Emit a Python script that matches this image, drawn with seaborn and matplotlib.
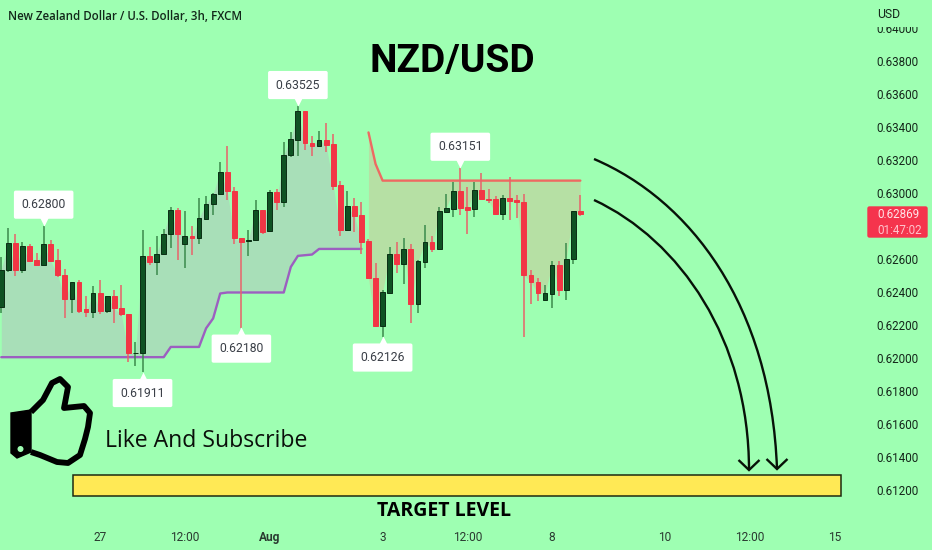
import numpy as np
import pandas as pd
import matplotlib
matplotlib.use("Agg")
import matplotlib.pyplot as plt
import matplotlib.transforms as mtransforms
from matplotlib.patches import Rectangle, FancyBboxPatch, PathPatch, Circle
from matplotlib.path import Path
import seaborn as sns

# candles, in 1e-5 price units
opens = [62308,62529,62694,62529,62674,62589,62559,62686,62589,62503,62354,62456,62291,62273,62388,62283,62372,62301,62263,62026,
         62026,62614,62577,62630,62746,62895,62690,62738,62722,62839,62928,62988,63125,63012,62726,62704,62710,62895,62766,63006,
         62942,63226,63320,63495,63300,63284,63318,63294,63048,62771,62917,62863,62708,62483,62191,62392,62626,62567,62658,62324,
         62579,62700,62658,62883,62903,63012,62911,62897,63016,62962,62958,62871,62968,62952,62942,62499,62456,62348,62386,62563,
         62408,62597,62885]
highs = [62609,62787,62750,62700,62690,62636,62800,62710,62660,62539,62456,62469,62372,62436,62469,62372,62408,62438,62263,62096,
         62775,62670,62738,62781,62915,62907,62887,62795,62968,62976,62996,63187,63282,63032,62726,62775,62956,62895,63018,63022,
         63306,63366,63525,63495,63340,63374,63423,63354,63068,63012,62968,62942,62720,62575,62408,62670,62700,62726,62686,62589,
         62805,62738,62915,62988,63062,63151,63032,63062,63119,63022,62976,62982,63093,62986,62992,62529,62483,62442,62585,62585,
         62694,62885,62986]
lows = [62271,62519,62493,62513,62579,62559,62559,62579,62485,62241,62271,62267,62247,62237,62263,62271,62207,62251,61975,61949,
        61911,62559,62503,62630,62664,62589,62543,62620,62686,62839,62861,62988,62952,62690,62180,62614,62706,62746,62766,62891,
        62915,63217,63219,63258,63219,63284,63244,63016,62734,62766,62760,62626,62479,62187,62126,62392,62515,62448,62207,62267,
        62543,62642,62658,62883,62851,62863,62750,62851,62956,62936,62865,62835,62835,62847,62122,62324,62342,62344,62301,62374,
        62348,62569,62855]
closes = [62533,62694,62529,62674,62583,62559,62686,62583,62497,62354,62456,62283,62273,62388,62283,62372,62297,62261,62026,62028,
          62614,62577,62630,62750,62895,62746,62738,62722,62843,62932,62992,63125,63008,62722,62700,62712,62895,62762,63006,62942,
          63230,63324,63491,63298,63284,63318,63290,63042,62771,62917,62859,62700,62479,62191,62396,62626,62567,62656,62324,62583,
          62700,62658,62887,62907,63012,62909,62895,63016,62960,62952,62869,62968,62948,62942,62499,62456,62392,62388,62563,62408,
          62599,62885,62869]

# lower trail line (candles 0..51) and upper trail line (candles 52..82)
lower_line = [62002]*24 + [62064]*5 + [62177,62237,62388] + [62394]*9 + [62549,62616,62620,62624] + [62658]*7
upper_line = [63364,63173] + [63072]*29

# callouts
callout_idx = [6, 42, 65, 34, 54, 20]
callout_val = [62800, 63525, 63151, 62180, 62126, 61911]
callout_dir = [1, 1, 1, -1, -1, -1]

# 0.628 is hidden behind the last-price tag in the reference, so it is not labelled
price_ticks = [0.612,0.614,0.616,0.618,0.620,0.622,0.624,0.626,0.630,0.632,0.634,0.636,0.638,0.640]
time_idx = [14, 26, 38, 54, 66, 78, 94, 106, 118]
time_labels = ["27", "12:00", "Aug", "3", "12:00", "8", "10", "12:00", "15"]

BG = "#9EFFB2"
UP, UP_WICK, UP_EDGE = "#0F5223", "#3B8A4C", "#0A2E14"
DN, DN_WICK = "#F23645", "#E8626A"

sns.set_theme(style="white")
plt.rcParams["font.family"] = ["Roboto", "DejaVu Sans"]

df = pd.DataFrame({"i": np.arange(len(opens)), "o": opens, "h": highs, "l": lows, "c": closes})
df[["o", "h", "l", "c"]] /= 1e5
df["up"] = df.c >= df.o

fig = plt.figure(figsize=(9.32, 5.5), dpi=100, facecolor=BG)
ax = fig.add_axes([0, 0, 1, 1], facecolor=BG)
px = mtransforms.Affine2D().scale(1, -1).translate(0, 550)

# shaded bands
low = pd.DataFrame({"i": np.arange(len(lower_line)), "v": np.array(lower_line) / 1e5})
upp = pd.DataFrame({"i": np.arange(len(upper_line)) + len(lower_line), "v": np.array(upper_line) / 1e5})
ax.fill_between(low.i, low.v, df.c.values[:len(low)], color="#A8DFB8", lw=0, zorder=1)
ax.fill_between(upp.i, upp.v, df.c.values[len(low):], color="#B6E0A4", lw=0, zorder=1)
sns.lineplot(data=low, x="i", y="v", color="#9C5FC0", lw=1.7, ax=ax, zorder=2, legend=False)
sns.lineplot(data=upp, x="i", y="v", color="#EE6A62", lw=1.7, ax=ax, zorder=2, legend=False)

# candles
for up, wick, body, edge in [(True, UP_WICK, UP, UP_EDGE), (False, DN_WICK, DN, DN)]:
    d = df[df.up == up]
    ax.vlines(d.i, d.l, d.h, color=wick, lw=1.1, zorder=3)
    ax.bar(d.i, (d.c - d.o).abs().clip(lower=0.00004), bottom=d[["o", "c"]].min(axis=1),
           width=0.68, color=body, edgecolor=edge, lw=0.7, zorder=4)

# callouts
for i, v, s in zip(callout_idx, callout_val, callout_dir):
    ax.annotate(f"{v/1e5:.5f}", xy=(i, v / 1e5), xytext=(0, s * 15), textcoords="offset points",
                ha="center", va="center", fontsize=8.8, color="#3A3F47", zorder=6,
                bbox=dict(boxstyle="round,pad=0.62,rounding_size=0.15", fc="white", ec="none"))
    tip = mtransforms.offset_copy(ax.transData, fig=fig, y=s * 4.5, units="dots")
    ax.plot([i], [v / 1e5], marker="v" if s > 0 else "^", ms=7.5, mfc="white", mec="none",
            transform=tip, zorder=6, clip_on=False)

# axes
ax.set_xlim(-0.184, 131.8)
ax.set_ylim(0.630 - 357.5 / 16500, 0.630 + 192.5 / 16500)
ax.set_xlabel("")
ax.set_ylabel("")
for s in ax.spines.values():
    s.set_visible(False)
ax.yaxis.tick_right()
ax.set_yticks(price_ticks)
ax.set_yticklabels([f"{t:.5f}" for t in price_ticks])
ax.tick_params(axis="y", length=0, pad=-40, labelsize=8.4, labelcolor="#14261A")
for lab in ax.get_yticklabels():
    lab.set_horizontalalignment("left")
ax.set_xticks(time_idx)
ax.set_xticklabels(time_labels)
ax.tick_params(axis="x", length=0, pad=-14, labelsize=8.6, labelcolor="#2A3A30")
ax.get_xticklabels()[2].set_fontweight("bold")

# cover clipping the top price label, and currency caption
ax.add_patch(Rectangle((868, 0), 64, 26.5, transform=px, fc=BG, ec="none", zorder=7))
ax.text(877, 14, "USD", transform=px, fontsize=8.8, color="#14261A", va="center", ha="left", zorder=8)

# last price tag
ax.add_patch(FancyBboxPatch((868, 207), 59, 30, boxstyle="round,pad=0,rounding_size=1.5", transform=px,
                            fc="#F5344D", ec="#F5344D", lw=1, zorder=7))
ax.text(877, 215, "0.62869", transform=px, fontsize=8.4, color="#FFE4E8", va="center", ha="left", zorder=8)
ax.text(877, 230, "01:47:02", transform=px, fontsize=8.4, color="#FFC4CC", va="center", ha="left", zorder=8)

# header and title
ax.text(8, 17, "New Zealand Dollar / U.S. Dollar, 3h, FXCM", transform=px, fontsize=8.3, fontweight="semibold",
        family="Open Sans", color="#12281A", va="center", ha="left")
ax.text(452, 62, "NZD/USD", transform=px, fontsize=28, fontweight="bold", color="black", va="center", ha="center")

# target band
ax.add_patch(Rectangle((73, 475), 768, 21, transform=px, fc="#FFE955", ec="#1E2A10", lw=1.1, zorder=3))
ax.text(444, 511, "TARGET LEVEL", transform=px, fontsize=14, fontweight="bold", family="Open Sans",
        color="black", va="center", ha="center")

# curved arrows
for p0, c1, c2, p1 in [((594, 159), (690, 200), (771, 305), (777, 469)),
                       ((594, 200), (680, 240), (749, 340), (749, 470))]:
    ax.add_patch(PathPatch(Path([p0, c1, c2, p1], [Path.MOVETO, Path.CURVE4, Path.CURVE4, Path.CURVE4]),
                 transform=px, fc="none", ec="#071208", lw=1.7, zorder=5))
    ax.add_patch(PathPatch(Path([(p1[0] - 10.5, p1[1] - 10), p1, (p1[0] + 10.5, p1[1] - 10)]),
                 transform=px, fc="none", ec="#071208", lw=1.7, zorder=5))

# thumb
hand = [(31, 412), (43, 400), (52, 383), (60, 379), (68, 387), (65, 403), (64, 408), (84, 406), (90, 413),
        (88, 427), (85, 439), (80, 455), (68, 463), (57, 462), (40, 455), (31, 452)]
ax.add_patch(PathPatch(Path(hand), transform=px, fc="none", ec="black", lw=4.2, joinstyle="round", zorder=5))
cuff = [(11, 413), (31, 410), (31, 452), (17, 458), (11, 453)]
ax.add_patch(PathPatch(Path(cuff + [cuff[0]], closed=True), transform=px, fc="black", ec="black", lw=1, zorder=5))
ax.add_patch(Circle((20.5, 449), 3, transform=px, fc=BG, ec="none", zorder=6))
ax.text(105, 441, "Like And Subscribe", transform=px, fontsize=16.6, family="Open Sans", color="#0A0F0A",
        va="center", ha="left")

fig.savefig("out.png", dpi=100, facecolor=BG)
